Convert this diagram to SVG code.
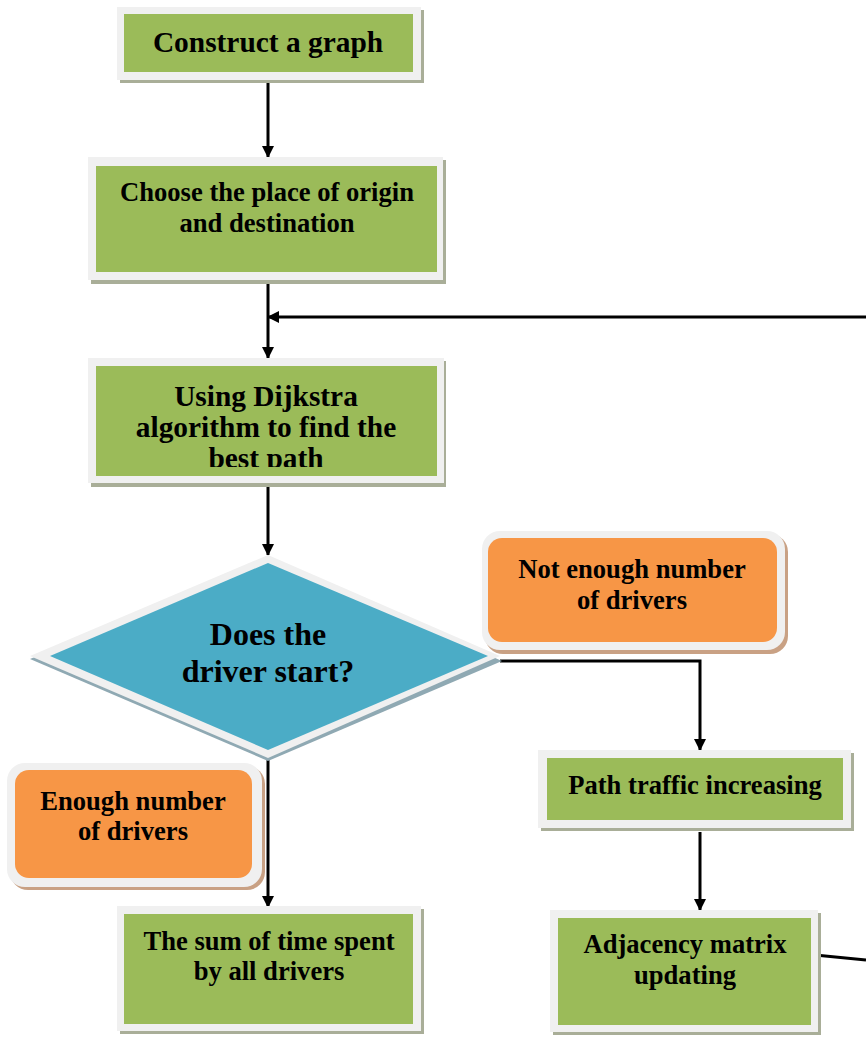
<svg xmlns="http://www.w3.org/2000/svg" width="866" height="1037" viewBox="0 0 866 1037">
<defs>
<style>
.t{font-family:"Liberation Serif","Times New Roman",serif;font-weight:bold;fill:#000;text-anchor:middle}
.f22{font-size:26.6px}
.f24{font-size:26.6px}
.f26{font-size:29.4px}
.f32{font-size:32px}
.sh{fill:#a9ae98}
.osh{fill:#c9a184}
.bsh{fill:#8fa9b3}
.frame{fill:#f0f0f0}
.green{fill:#9bbb59}
.orange{fill:#f79646}
.blue{fill:#4bacc6}
.ln{stroke:#000;stroke-width:3;fill:none}
</style>
<marker id="ah" viewBox="0 0 12 12" refX="11" refY="6" markerWidth="12" markerHeight="12" markerUnits="userSpaceOnUse" orient="auto">
<path d="M0,0 L12,6 L0,12 Z" fill="#000"/>
</marker>
<clipPath id="c3"><rect x="96" y="366" width="341" height="101"/></clipPath>
</defs>

<g id="connectors">
<line class="ln" x1="268" y1="80" x2="268" y2="157" marker-end="url(#ah)"/>
<line class="ln" x1="268" y1="284" x2="268" y2="358" marker-end="url(#ah)"/>
<line class="ln" x1="866" y1="317" x2="268" y2="317" marker-end="url(#ah)"/>
<line class="ln" x1="268" y1="483" x2="268" y2="555" marker-end="url(#ah)"/>
<polyline class="ln" points="500,661 700,661 700,750" marker-end="url(#ah)"/>
<line class="ln" x1="268" y1="758" x2="268" y2="907" marker-end="url(#ah)"/>
<line class="ln" x1="700" y1="832" x2="700" y2="910" marker-end="url(#ah)"/>
<line class="ln" x1="815" y1="955" x2="866" y2="960"/>
</g>

<g id="n1">
<rect class="sh" x="120" y="10" width="304" height="73"/>
<rect class="frame" x="117" y="7" width="304" height="73"/>
<rect class="green" x="124" y="14" width="289" height="58"/>
<text class="t f26" x="268" y="52">Construct a graph</text>
</g>

<g id="n2">
<rect class="sh" x="91" y="160" width="355" height="124"/>
<rect class="frame" x="88" y="157" width="355" height="123"/>
<rect class="green" x="96" y="166" width="341" height="106"/>
<text class="t f24" x="267" y="201">Choose the place of origin</text>
<text class="t f24" x="267" y="232">and destination</text>
</g>

<g id="n3">
<rect class="sh" x="91" y="361" width="355" height="126"/>
<rect class="frame" x="88" y="358" width="356" height="125"/>
<rect class="green" x="96" y="366" width="341" height="110"/>
<g clip-path="url(#c3)">
<text class="t f26" x="266" y="406">Using Dijkstra</text>
<text class="t f26" x="266" y="437">algorithm to find the</text>
<text class="t f26" x="266" y="468">best path</text>
</g>
</g>

<g id="n4">
<polygon class="bsh" points="30,659 268,761 502,661 268,559"/>
<polygon class="frame" points="30,656 268,555 500,656 268,758"/>
<polygon class="blue" points="50,656 268,563 488,656 268,750"/>
<text class="t f32" x="268" y="645">Does the</text>
<text class="t f32" x="268" y="682">driver start?</text>
</g>

<g id="n5">
<rect class="osh" x="485" y="534" width="303" height="120" rx="18"/>
<rect class="frame" x="482" y="531" width="303" height="119" rx="18"/>
<rect class="orange" x="488" y="538" width="289" height="104" rx="14"/>
<text class="t f22" x="632" y="578">Not enough number</text>
<text class="t f22" x="632" y="609">of drivers</text>
</g>

<g id="n6">
<rect class="sh" x="541" y="753" width="313" height="78"/>
<rect class="frame" x="538" y="750" width="313" height="78"/>
<rect class="green" x="547" y="758" width="296" height="62"/>
<text class="t f22" x="695" y="794">Path traffic increasing</text>
</g>

<g id="n7">
<rect class="osh" x="10" y="766" width="255" height="124" rx="18"/>
<rect class="frame" x="7" y="763" width="255" height="124" rx="18"/>
<rect class="orange" x="15" y="770" width="237" height="108" rx="14"/>
<text class="t f22" x="133" y="810">Enough number</text>
<text class="t f22" x="133" y="840">of drivers</text>
</g>

<g id="n8">
<rect class="sh" x="120" y="909" width="304" height="125"/>
<rect class="frame" x="117" y="906" width="304" height="125"/>
<rect class="green" x="124" y="914" width="289" height="110"/>
<text class="t f22" x="269" y="950">The sum of time spent</text>
<text class="t f22" x="269" y="980">by all drivers</text>
</g>

<g id="n9">
<rect class="sh" x="553" y="913" width="268" height="122"/>
<rect class="frame" x="550" y="910" width="268" height="122"/>
<rect class="green" x="558" y="918" width="253" height="107"/>
<text class="t f22" x="685" y="953">Adjacency matrix</text>
<text class="t f22" x="685" y="984">updating</text>
</g>
</svg>
